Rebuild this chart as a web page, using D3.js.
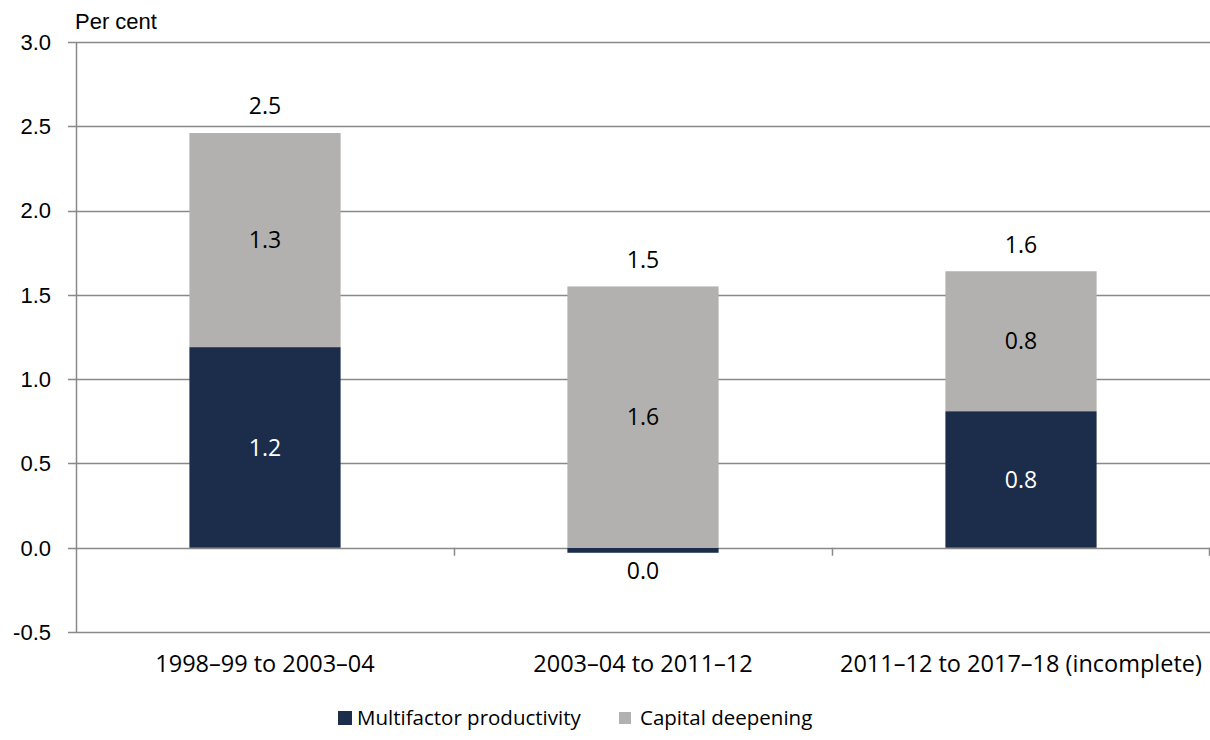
<!DOCTYPE html>
<html>
<head>
<meta charset="utf-8">
<script src="https://cdn.jsdelivr.net/npm/d3@7"></script>
<style>
  body { margin: 0; background: #fff; }
  svg { display: block; }
</style>
</head>
<body>
<svg width="1210" height="740"></svg>
<script>
// chart data
var categories = ["1998\u201399 to 2003\u201304", "2003\u201304 to 2011\u201312", "2011\u201312 to 2017\u201318 (incomplete)"];
var mfp = [1.19, -0.03, 0.81];
var capital = [1.27, 1.55, 0.83];
var totals = [2.46, 1.52, 1.64];
var yTicks = [-0.5, 0.0, 0.5, 1.0, 1.5, 2.0, 2.5, 3.0];
var seriesNames = ["Multifactor productivity", "Capital deepening"];
var colors = ["#1b2d4b", "#b2b1b0"];

var svg = d3.select("svg"),
    plotLeft = 76, plotRight = 1210, plotTop = 42, plotBottom = 632;

var x = d3.scaleBand()
    .domain(categories)
    .range([plotLeft, plotRight])
    .paddingInner(0.6)
    .paddingOuter(0.3);

var y = d3.scaleLinear()
    .domain([-0.5, 3.0])
    .range([plotBottom, plotTop]);

var gridColor = "#898989";
var numFont = "'Liberation Sans', Arial, sans-serif";
var lblFont = "'Open Sans', 'Noto Sans', sans-serif";

// excel style: plain hyphen for negatives
var fmt = function(v) { return d3.format(".1f")(v).replace("\u2212", "-"); };

// gridlines + y labels
svg.append("g").selectAll("line")
  .data(yTicks)
  .enter().append("line")
    .attr("x1", plotLeft - 8)
    .attr("x2", plotRight)
    .attr("y1", function(d) { return Math.round(y(d)) + 0.5; })
    .attr("y2", function(d) { return Math.round(y(d)) + 0.5; })
    .attr("stroke", gridColor)
    .attr("stroke-width", 1.5);

svg.append("g").selectAll("text")
  .data(yTicks)
  .enter().append("text")
    .attr("x", plotLeft - 25)
    .attr("y", function(d) { return y(d); })
    .attr("dy", "0.36em")
    .attr("text-anchor", "end")
    .attr("font-family", numFont)
    .attr("font-size", 22)
    .attr("fill", "#000")
    .text(function(d) { return fmt(d); });

svg.append("text")
  .attr("x", plotLeft - 1)
  .attr("y", 29)
  .attr("font-family", numFont)
  .attr("font-size", 22)
  .attr("fill", "#000")
  .text("Per cent");

// y axis line
svg.append("line")
  .attr("x1", plotLeft + 0.5).attr("x2", plotLeft + 0.5)
  .attr("y1", plotTop).attr("y2", plotBottom)
  .attr("stroke", gridColor)
  .attr("stroke-width", 1.5);

// category tick marks on zero line
var bounds = categories.map(function(c) { return x(c) - x.step() * x.paddingInner() / 2 + x.step(); });
svg.append("g").selectAll("line")
  .data(bounds)
  .enter().append("line")
    .attr("x1", function(d) { return Math.min(Math.round(d), plotRight - 1) + 0.5; })
    .attr("x2", function(d) { return Math.min(Math.round(d), plotRight - 1) + 0.5; })
    .attr("y1", y(0))
    .attr("y2", y(0) + 8)
    .attr("stroke", gridColor)
    .attr("stroke-width", 1.5);

// bars
svg.append("g").selectAll("rect")
  .data(categories)
  .enter().append("rect")
    .attr("x", function(d) { return x(d); })
    .attr("width", x.bandwidth())
    .attr("y", function(d, i) { return y(Math.max(0, mfp[i])); })
    .attr("height", function(d, i) { return Math.abs(y(mfp[i]) - y(0)); })
    .attr("fill", colors[0]);

svg.append("g").selectAll("rect")
  .data(categories)
  .enter().append("rect")
    .attr("x", function(d) { return x(d); })
    .attr("width", x.bandwidth())
    .attr("y", function(d, i) { return y(Math.max(0, mfp[i]) + capital[i]); })
    .attr("height", function(d, i) { return y(Math.max(0, mfp[i])) - y(Math.max(0, mfp[i]) + capital[i]); })
    .attr("fill", colors[1]);

// data labels
function lbl(cx, cy, txt, fill) {
  svg.append("text")
    .attr("x", cx).attr("y", cy)
    .attr("dy", "0.36em")
    .attr("text-anchor", "middle")
    .attr("font-family", lblFont)
    .attr("font-size", 23)
    .attr("fill", fill)
    .text(txt);
}

categories.forEach(function(c, i) {
  var cx = x(c) + x.bandwidth() / 2;
  var base = Math.max(0, mfp[i]);
  if (mfp[i] >= 0) {
    lbl(cx, y(mfp[i] / 2), fmt(mfp[i]), "#fff");
  } else {
    lbl(cx, y(mfp[i]) + 18, fmt(Math.abs(mfp[i]) < 0.05 ? 0 : mfp[i]), "#000");
  }
  lbl(cx, y(base + capital[i] / 2), fmt(capital[i]), "#000");
  lbl(cx, y(base + capital[i]) - 27, fmt(totals[i]), "#000");
});

// category labels
svg.append("g").selectAll("text")
  .data(categories)
  .enter().append("text")
    .attr("x", function(d) { return x(d) + x.bandwidth() / 2; })
    .attr("y", 664)
    .attr("dy", "0.36em")
    .attr("text-anchor", "middle")
    .attr("font-family", lblFont)
    .attr("font-size", 23.5)
    .attr("fill", "#000")
    .text(function(d) { return d; });

// legend
var legendX = [338, 619];
var legend = svg.append("g").selectAll("g")
  .data(seriesNames)
  .enter().append("g")
    .attr("transform", function(d, i) { return "translate(" + legendX[i] + ",718)"; });

legend.append("rect")
  .attr("x", 0).attr("y", function(d, i) { return i == 0 ? -7 : -6; })
  .attr("width", function(d, i) { return i == 0 ? 14 : 12; })
  .attr("height", function(d, i) { return i == 0 ? 14 : 12; })
  .attr("fill", function(d, i) { return colors[i]; });

legend.append("text")
  .attr("x", function(d, i) { return i == 0 ? 19 : 21; })
  .attr("y", 0)
  .attr("dy", "0.36em")
  .attr("font-family", lblFont)
  .attr("font-size", 20.5)
  .attr("fill", "#000")
  .text(function(d) { return d; });
</script>
</body>
</html>
